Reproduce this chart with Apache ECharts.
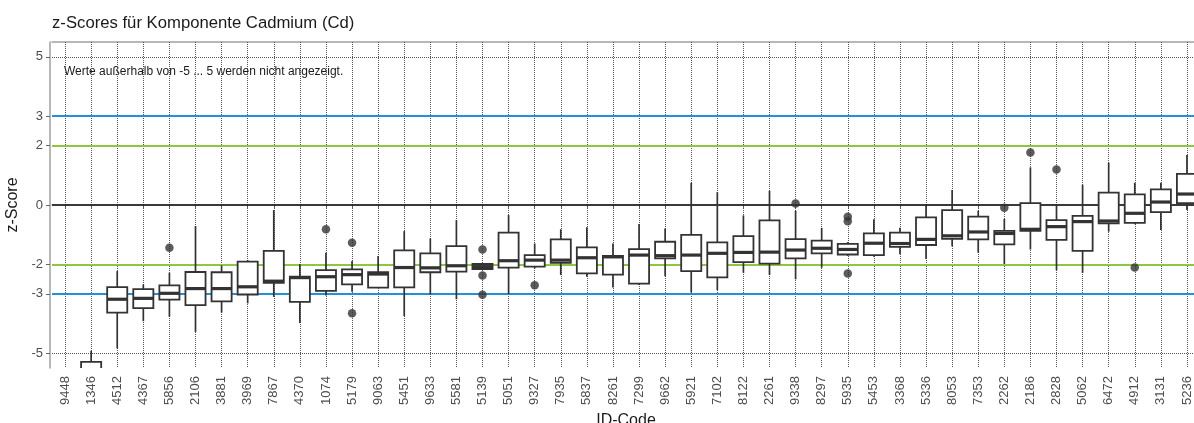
<!DOCTYPE html>
<html>
<head>
<meta charset="utf-8">
<script src="https://cdn.jsdelivr.net/npm/echarts@6/dist/echarts.min.js"></script>
<style>html,body{margin:0;padding:0;background:#fff;}#c{width:1194px;height:423px;}</style>
</head>
<body>
<div id="c"></div>
<script>
// ---- data ----
const categories = ['9448','1346','4512','4367','5856','2106','3881','3969','7867','4370','1074','5179','9063','5451','9633','5581','5139','5051','9327','7935','5837','8261','7299','9662','5921','7102','8122','2261','9338','8297','5935','5453','3368','5336','8053','7353','2262','2186','2828','5062','6472','4912','3131','5236'];
const whiskerLow = [null,-6.5,-4.84,-3.92,-3.77,-4.28,-3.63,-3.32,-3.10,-3.98,-3.05,-2.93,-2.80,-3.75,-3.02,-3.18,-2.16,-3.01,-2.14,-2.36,-2.42,-2.78,-2.70,-2.40,-2.95,-2.87,-2.29,-2.36,-2.51,-2.12,-1.72,-1.75,-1.66,-1.82,-1.39,-1.61,-1.99,-1.50,-2.20,-2.29,-0.90,-0.65,-0.84,-0.17];
const q1 = [null,-6.0,-3.63,-3.48,-3.19,-3.38,-3.25,-3.02,-2.63,-3.27,-2.90,-2.68,-2.79,-2.78,-2.27,-2.25,-2.16,-2.11,-2.08,-1.95,-2.31,-2.35,-2.65,-1.80,-2.23,-2.44,-1.93,-1.98,-1.80,-1.63,-1.67,-1.69,-1.41,-1.35,-1.14,-1.16,-1.33,-0.87,-1.18,-1.55,-0.62,-0.60,-0.24,0.06];
const medians = [null,-5.8,-3.18,-3.15,-2.98,-2.82,-2.82,-2.76,-2.57,-2.45,-2.42,-2.35,-2.33,-2.11,-2.12,-2.05,-2.08,-1.88,-1.86,-1.86,-1.78,-1.75,-1.69,-1.71,-1.69,-1.63,-1.60,-1.59,-1.52,-1.46,-1.50,-1.29,-1.30,-1.16,-1.04,-0.91,-0.96,-0.82,-0.73,-0.56,-0.54,-0.28,0.10,0.37];
const q3 = [null,-5.29,-2.77,-2.84,-2.71,-2.26,-2.27,-1.91,-1.55,-2.42,-2.20,-2.17,-2.27,-1.53,-1.63,-1.39,-1.99,-0.93,-1.69,-1.16,-1.43,-1.72,-1.49,-1.24,-1.01,-1.26,-1.05,-0.52,-1.15,-1.20,-1.31,-0.96,-0.93,-0.42,-0.17,-0.39,-0.87,0.06,-0.51,-0.37,0.42,0.36,0.53,1.05];
const whiskerHigh = [null,-4.92,-2.23,-2.68,-2.29,-0.71,-2.04,-1.86,-0.17,-1.99,-1.61,-1.89,-1.72,-0.88,-1.13,-0.51,-1.99,-0.34,-1.30,-0.82,-0.75,-1.30,-0.64,-0.79,0.75,0.43,-0.35,0.48,-0.19,-0.77,-1.25,-0.48,-0.77,-0.03,0.51,-0.19,-0.47,1.27,0.02,0.68,1.43,0.75,0.75,1.69];
const outlierCodes = ['5856','1074','5179','5179','5139','5139','5139','9327','9338','5935','5935','5935','2262','2186','2828','4912'];
const outlierValues = [-1.44,-0.82,-1.27,-3.65,-1.50,-2.38,-3.03,-2.71,0.05,-0.40,-0.55,-2.31,-0.09,1.77,1.20,-2.11];
const yTickValues = [5,3,2,0,-2,-3,-5];
const titleText = 'z-Scores für Komponente Cadmium (Cd)';
const noteText = 'Werte außerhalb von -5 ... 5 werden nicht angezeigt.';

// ---- build ----
const boxData = [];
categories.forEach((c, i) => {
  if (medians[i] === null) return;
  boxData.push([i, whiskerLow[i], q1[i], medians[i], q3[i], whiskerHigh[i]]);
});
const outlierData = outlierCodes.map((c, k) => [categories.indexOf(c), outlierValues[k]]);

const dark = '#333333';
const gridGray = '#555555';
const panelGray = '#a0a0a0';
const labelGray = '#4d4d4d';
const font = 'Liberation Sans, Arial, sans-serif';

const chart = echarts.init(document.getElementById('c'), null, {renderer: 'canvas'});
chart.setOption({
  animation: false,
  backgroundColor: '#ffffff',
  textStyle: {fontFamily: font},
  title: {
    text: titleText, left: 47, top: 10,
    textStyle: {fontFamily: font, fontSize: 16.7, fontWeight: 'normal', color: '#1a1a1a'}
  },
  grid: {left: 52, right: -6, top: 42, bottom: 55, show: false, containLabel: false, outerBoundsMode: 'none'},
  graphic: [{
    type: 'text', left: 64, top: 66, silent: true,
    style: {text: noteText, fontFamily: font, fontSize: 12, fill: '#1a1a1a'}
  }],
  xAxis: [{
    type: 'category', data: categories, position: 'bottom', boundaryGap: true,
    name: 'ID-Code', nameLocation: 'middle', nameGap: 44,
    nameTextStyle: {fontFamily: font, fontSize: 16, color: '#1a1a1a'},
    axisLine: {show: true, lineStyle: {color: panelGray, width: 1.5}},
    axisTick: {show: true, alignWithLabel: true, length: 4, lineStyle: {color: '#666'}},
    axisLabel: {rotate: 90, interval: 0, margin: 8, fontFamily: font, fontSize: 13, color: labelGray},
    splitLine: {show: false}
  }, {
    type: 'category', data: categories, position: 'top', boundaryGap: true,
    axisLine: {show: true, lineStyle: {color: panelGray, width: 1.5}},
    axisTick: {show: true, inside: true, alignWithLabel: true, length: 326, interval: 0,
      lineStyle: {color: gridGray, type: 'dotted', width: 1}},
    axisLabel: {show: false},
    splitLine: {show: false}
  }],
  yAxis: {
    type: 'value', min: -5.5, max: 5.5, offset: 2,
    name: 'z-Score', nameLocation: 'middle', nameGap: 19, nameRotate: 90,
    nameTextStyle: {fontFamily: font, fontSize: 16, color: '#1a1a1a'},
    axisLine: {show: true, lineStyle: {color: panelGray, width: 1.5}},
    axisTick: {show: true, length: 4, customValues: yTickValues, lineStyle: {color: '#666'}},
    axisLabel: {customValues: yTickValues, margin: 7, fontFamily: font, fontSize: 13, color: labelGray},
    splitLine: {show: false}
  },
  series: [{
    type: 'custom',
    z: 10,
    clip: true,
    data: boxData,
    encode: {x: 0, y: [1, 2, 3, 4, 5]},
    renderItem: function (params, api) {
      const x = api.value(0);
      const pLow = api.coord([x, api.value(1)]);
      const pQ1 = api.coord([x, api.value(2)]);
      const pMed = api.coord([x, api.value(3)]);
      const pQ3 = api.coord([x, api.value(4)]);
      const pHigh = api.coord([x, api.value(5)]);
      const bw = api.size([1, 0])[0] * 0.77;
      const cx = pMed[0];
      const lineSt = {stroke: dark, lineWidth: 1.7};
      return {
        type: 'group',
        children: [
          {type: 'line', shape: {x1: cx, y1: pQ3[1], x2: cx, y2: pHigh[1]}, style: lineSt},
          {type: 'line', shape: {x1: cx, y1: pQ1[1], x2: cx, y2: pLow[1]}, style: lineSt},
          {type: 'rect', shape: {x: cx - bw / 2, y: pQ3[1], width: bw, height: pQ1[1] - pQ3[1]},
            style: {fill: '#ffffff', stroke: dark, lineWidth: 1.8}},
          {type: 'line', shape: {x1: cx - bw / 2, y1: pMed[1], x2: cx + bw / 2, y2: pMed[1]},
            style: {stroke: dark, lineWidth: 3.2}}
        ]
      };
    },
    markLine: {
      z: 1, silent: true, symbol: 'none', label: {show: false},
      emphasis: {disabled: true},
      data: [
        {yAxis: 5, lineStyle: {color: gridGray, type: 'dotted', width: 1}},
        {yAxis: -5, lineStyle: {color: gridGray, type: 'dotted', width: 1}},
        {yAxis: 3, lineStyle: {color: '#2590d8', type: 'solid', width: 2}},
        {yAxis: -3, lineStyle: {color: '#2590d8', type: 'solid', width: 2}},
        {yAxis: 2, lineStyle: {color: '#8ec63f', type: 'solid', width: 2}},
        {yAxis: -2, lineStyle: {color: '#8ec63f', type: 'solid', width: 2}},
        {yAxis: 0, lineStyle: {color: '#111111', type: 'solid', width: 1.6}}
      ]
    }
  }, {
    type: 'scatter',
    z: 11,
    data: outlierData,
    symbol: 'circle',
    symbolSize: 8.5,
    itemStyle: {color: dark},
    silent: true
  }]
});
</script>
</body>
</html>
